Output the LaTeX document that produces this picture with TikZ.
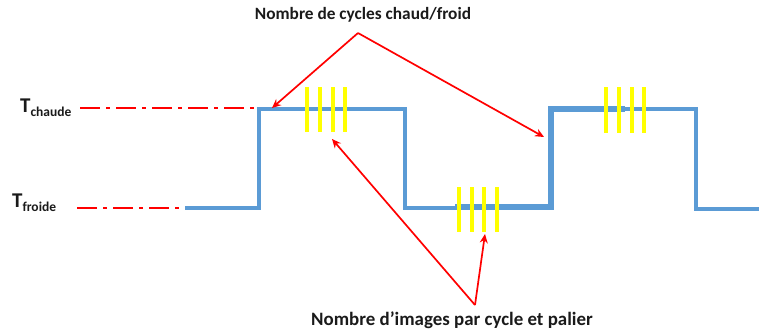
\documentclass[tikz,border=0pt]{standalone}
\usepackage{fontspec}
\setmainfont{Carlito}
\usetikzlibrary{arrows.meta,positioning}
\definecolor{wave}{HTML}{5B9BD5}
\definecolor{marker}{HTML}{FFFF00}
\definecolor{callout}{HTML}{FF0000}
\definecolor{labeltext}{HTML}{1A1A1A}
\tikzset{
  signal/.style={draw=wave, line width=4pt, line join=miter},
  thicksignal/.style={signal, line width=5.5pt},
  level/.style={draw=callout, line width=2pt, dash pattern=on 20pt off 6pt on 4pt off 6pt},
  imgbar/.style={draw=marker, line width=4pt},
  pointer/.style={-{Stealth[length=9pt, width=8pt]}, draw=callout, line width=1.7pt},
  caption/.style={font=\bfseries\fontsize{17.3}{20}\selectfont, text=labeltext, inner sep=0pt},
  templabel/.style={font=\bfseries\fontsize{21}{24}\selectfont, text=labeltext, inner sep=0pt, anchor=base west}
}

\begin{document}
\begin{tikzpicture}[x=1pt, y=-1pt]
  \useasboundingbox (0,0) rectangle (759,333);
  % levels
  \node[templabel] (hot) at (20,112) {T\raisebox{-4pt}{\fontsize{13.5}{15}\selectfont chaude}};
  \node[templabel] (cold) at (12,207) {T\raisebox{-4pt}{\fontsize{13.5}{15}\selectfont froide}};
  \draw[level] (80,108) -- (257,108);
  \draw[level] (77,208) -- (185,208);
  % signal
  \draw[signal] (185,208) -- (259,208) -- (259,109) -- (405,109) -- (405,208)
    -- (551,208) -- (551,109) -- (696,109) -- (696,209) -- (759,209);
  \draw[thicksignal] (455,207) -- (551,207) -- (551,109) -- (625,109);
  % images
  \foreach \x in {307,320,333,345} \draw[imgbar] (\x,87) -- (\x,132);
  \foreach \x in {459,472,484,497} \draw[imgbar] (\x,187) -- (\x,232);
  \foreach \x in {606,619,632,644} \draw[imgbar] (\x,87) -- (\x,133);
  % callouts
  \node[caption] (cycles) at (363,15) {Nombre de cycles chaud/froid};
  \node[caption, font=\bfseries\fontsize{18.9}{22}\selectfont] (frames) at (452,320) {Nombre d’images par cycle et palier};
  \coordinate (cyctip) at (358,33);
  \coordinate (imgtip) at (475,305);
  \coordinate (firstrise) at (272,108);
  \coordinate (secondrise) at (544,137);
  \coordinate (hotbars) at (332,139);
  \coordinate (coldbars) at (485,234);
  \draw[pointer] (cyctip) -- (firstrise);
  \draw[pointer] (cyctip) -- (secondrise);
  \draw[pointer] (imgtip) -- (hotbars);
  \draw[pointer] (imgtip) -- (coldbars);
\end{tikzpicture}
\end{document}
